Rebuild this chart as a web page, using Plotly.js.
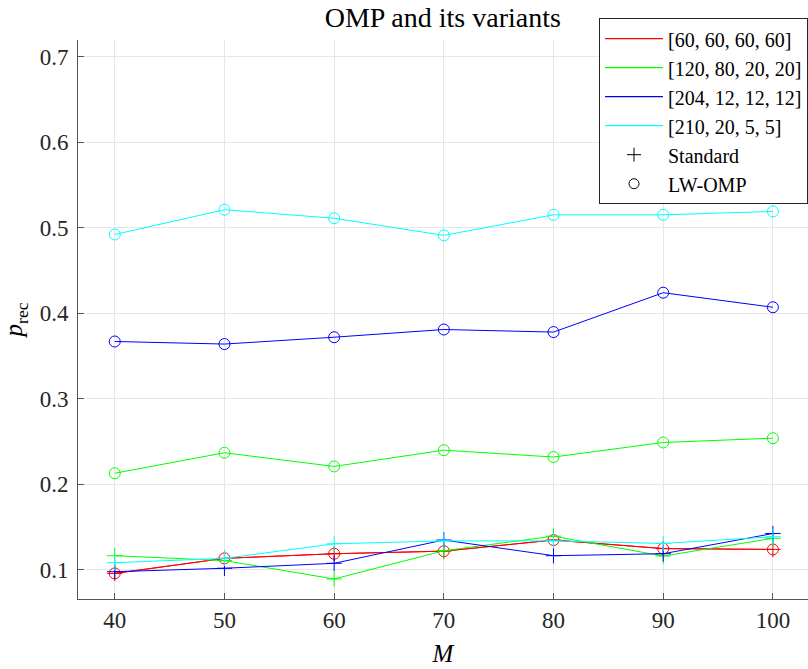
<!DOCTYPE html>
<html>
<head>
<meta charset="utf-8">
<script src="https://cdn.plot.ly/plotly-3.0.1.min.js"></script>
<style>html,body{margin:0;padding:0;background:#fff;}#chart{width:808px;height:669px;}</style>
</head>
<body>
<div id="chart"></div>
<script>
const M = [40, 50, 60, 70, 80, 90, 100];
const seriesNames = ['[60, 60, 60, 60]', '[120, 80, 20, 20]', '[204, 12, 12, 12]', '[210, 20, 5, 5]'];
const seriesColors = ['#ff0000', '#00ff00', '#0000ff', '#00ffff'];
// Standard OMP
const std60  = [0.096, 0.1136, 0.119, 0.122, 0.135, 0.125, 0.124];
const std120 = [0.1167, 0.111, 0.0895, 0.1225, 0.1395, 0.1163, 0.137];
const std204 = [0.098, 0.102, 0.1078, 0.135, 0.1167, 0.119, 0.1426];
const std210 = [0.1085, 0.1136, 0.1306, 0.134, 0.134, 0.131, 0.1388];
// LW-OMP
const lw60  = [0.096, 0.1136, 0.119, 0.122, 0.135, 0.125, 0.124];
const lw120 = [0.213, 0.237, 0.221, 0.240, 0.232, 0.249, 0.254];
const lw204 = [0.367, 0.364, 0.372, 0.381, 0.378, 0.424, 0.407];
const lw210 = [0.492, 0.521, 0.511, 0.491, 0.515, 0.515, 0.519];

const stdData = [std60, std120, std204, std210];
const lwData = [lw60, lw120, lw204, lw210];

const traces = [];
for (let i = 0; i < 4; i++) {
  traces.push({
    x: M, y: stdData[i], type: 'scatter', mode: 'lines+markers', showlegend: false,
    line: {color: seriesColors[i], width: 1},
    marker: {symbol: 'cross-thin', size: 11, color: seriesColors[i], line: {width: 1, color: seriesColors[i]}}
  });
  traces.push({
    x: M, y: lwData[i], type: 'scatter', mode: 'lines+markers', showlegend: false,
    line: {color: seriesColors[i], width: 1},
    marker: {symbol: 'circle-open', size: 11, color: seriesColors[i], line: {width: 1, color: seriesColors[i]}}
  });
}
// legend entries
for (let i = 0; i < 4; i++) {
  traces.push({x: [null], y: [null], type: 'scatter', mode: 'lines', name: seriesNames[i],
    line: {color: seriesColors[i], width: 1.2}});
}
traces.push({x: [null], y: [null], type: 'scatter', mode: 'markers', name: 'Standard',
  marker: {symbol: 'cross-thin', size: 10, color: '#000', line: {width: 1, color: '#000'}}});
traces.push({x: [null], y: [null], type: 'scatter', mode: 'markers', name: 'LW-OMP',
  marker: {symbol: 'circle-open', size: 10, color: '#000', line: {width: 1, color: '#000'}}});

const fontFam = 'Liberation Serif, Times New Roman, DejaVu Serif, serif';
const axisCommon = {
  showgrid: true, gridcolor: '#e6e6e6', gridwidth: 1,
  showline: true, linecolor: '#555', linewidth: 1,
  ticks: 'inside', ticklen: 6, tickcolor: '#555', tickwidth: 1,
  zeroline: false, mirror: false,
  tickfont: {family: fontFam, size: 23, color: '#262626'}
};

const layout = {
  width: 808, height: 669,
  margin: {l: 78, r: 0, t: 40, b: 70},
  paper_bgcolor: '#fff', plot_bgcolor: '#fff',
  font: {family: fontFam, color: '#000'},
  title: {text: 'OMP and its variants', font: {family: fontFam, size: 28, color: '#000'},
    x: 0.548, xanchor: 'center', y: 0.975, yanchor: 'middle'},
  xaxis: Object.assign({}, axisCommon, {
    range: [36.65, 103.2], tickvals: M,
    title: {text: '<i>M</i>', font: {family: fontFam, size: 25, color: '#000'}, standoff: 12}
  }),
  yaxis: Object.assign({}, axisCommon, {
    range: [0.0661, 0.7193], tickvals: [0.1, 0.2, 0.3, 0.4, 0.5, 0.6, 0.7], tickformat: '.1f',
    ticklabelstandoff: 4,
    title: {text: '<i>p</i><sub>rec</sub>', font: {family: fontFam, size: 25, color: '#000'}, standoff: 9}
  }),
  legend: {
    x: 1, xanchor: 'right', y: 1.039, yanchor: 'top',
    bgcolor: '#fff', bordercolor: '#262626', borderwidth: 1,
    font: {family: fontFam, size: 20, color: '#000'},
    itemwidth: 58,
    tracegroupgap: 0
  }
};

Plotly.newPlot('chart', traces, layout, {staticPlot: true, displayModeBar: false});
</script>
</body>
</html>
